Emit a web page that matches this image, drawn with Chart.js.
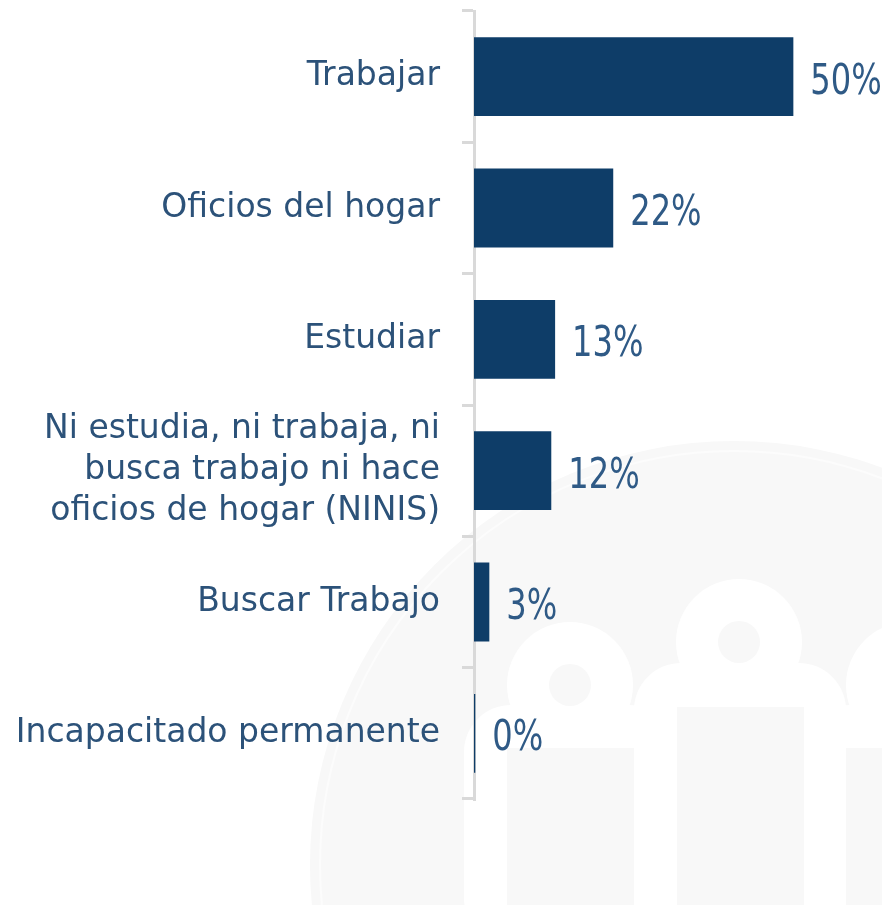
<!DOCTYPE html>
<html>
<head>
<meta charset="utf-8">
<script src="https://cdn.jsdelivr.net/npm/chart.js@4/dist/chart.umd.min.js"></script>
<style>
  html, body { margin: 0; padding: 0; background: #ffffff; }
  #wrap { width: 882px; height: 905px; position: relative; }
</style>
</head>
<body>
<div id="wrap"><canvas id="c" width="882" height="905"></canvas></div>
<script>
const categories = [
  "Trabajar",
  "Oficios del hogar",
  "Estudiar",
  ["Ni estudia, ni trabaja, ni", "busca trabajo ni hace", "oficios de hogar (NINIS)"],
  "Buscar Trabajo",
  "Incapacitado permanente"
];
const values = [50, 21.8, 12.7, 12.1, 2.4, 0.2];
const valueLabels = ["50%", "22%", "13%", "12%", "3%", "0%"];

const barColor = "#0e3d68";
const labelColor = "#2c5279";
const valueColor = "#2f5a86";
const axisColor = "#d9d9d9";
const catFont = "'DejaVu Sans', sans-serif";
const valFont = "'DejaVu Sans Condensed', 'DejaVu Sans', sans-serif";

// faint background watermark (decoration only)
const watermarkPlugin = {
  id: "watermark",
  beforeDraw(chart) {
    const ctx = chart.ctx;
    const H = chart.height;
    ctx.save();
    ctx.fillStyle = "#ffffff";
    ctx.fillRect(0, 0, chart.width, H);
    ctx.beginPath();
    ctx.arc(734, 865, 424, 0, Math.PI * 2);
    ctx.fillStyle = "#f8f8f8";
    ctx.fill();
    ctx.lineWidth = 2;
    ctx.strokeStyle = "#fcfcfc";
    ctx.beginPath();
    ctx.arc(734, 865, 414, 0, Math.PI * 2);
    ctx.stroke();
    const people = [
      { hx: 570, hy: 685, wx: 464, wy: 705, gy: 748 },
      { hx: 739, hy: 642, wx: 634, wy: 663, gy: 707 },
      { hx: 909, hy: 685, wx: 803, wy: 705, gy: 748 }
    ];
    people.forEach(p => {
      ctx.fillStyle = "#ffffff";
      ctx.beginPath();
      ctx.arc(p.hx, p.hy, 63, 0, Math.PI * 2);
      ctx.fill();
      ctx.beginPath();
      ctx.roundRect(p.wx, p.wy, 212, H - p.wy + 40, 47);
      ctx.fill();
    });
    people.forEach(p => {
      ctx.fillStyle = "#f8f8f8";
      ctx.beginPath();
      ctx.arc(p.hx, p.hy, 21, 0, Math.PI * 2);
      ctx.fill();
      ctx.fillRect(p.wx + 43, p.gy, 127, H - p.gy);
    });
    ctx.restore();
  }
};

const valueLabelPlugin = {
  id: "valueLabels",
  afterDatasetsDraw(chart) {
    const ctx = chart.ctx;
    const meta = chart.getDatasetMeta(0);
    ctx.save();
    ctx.fillStyle = valueColor;
    ctx.font = "42px " + valFont;
    ctx.textAlign = "left";
    ctx.textBaseline = "alphabetic";
    meta.data.forEach((bar, i) => {
      ctx.save();
      ctx.translate(bar.x + 17, bar.y + 17);
      ctx.scale(0.85, 1);
      ctx.fillText(valueLabels[i], 0, 0);
      ctx.restore();
    });
    ctx.restore();
  }
};

new Chart(document.getElementById("c"), {
  type: "bar",
  data: {
    labels: categories,
    datasets: [{
      data: values,
      backgroundColor: barColor,
      borderWidth: 0,
      categoryPercentage: 1.0,
      barPercentage: 0.6
    }]
  },
  options: {
    indexAxis: "y",
    responsive: false,
    animation: false,
    layout: { padding: { top: 11, bottom: 106, left: 0, right: 12 } },
    plugins: {
      legend: { display: false },
      tooltip: { enabled: false }
    },
    scales: {
      x: {
        display: false,
        min: 0,
        max: 62
      },
      y: {
        afterFit(scale) {
          scale.width = 474;
          scale.paddingTop = 0;
          scale.paddingBottom = 0;
        },
        border: { display: true, color: axisColor, width: 3 },
        grid: {
          drawOnChartArea: false,
          drawTicks: true,
          tickLength: 12,
          color: axisColor,
          lineWidth: 3
        },
        ticks: {
          color: labelColor,
          padding: 22,
          font: { family: catFont, size: 33, lineHeight: 1.24 }
        }
      }
    }
  },
  plugins: [watermarkPlugin, valueLabelPlugin]
});
</script>
</body>
</html>
